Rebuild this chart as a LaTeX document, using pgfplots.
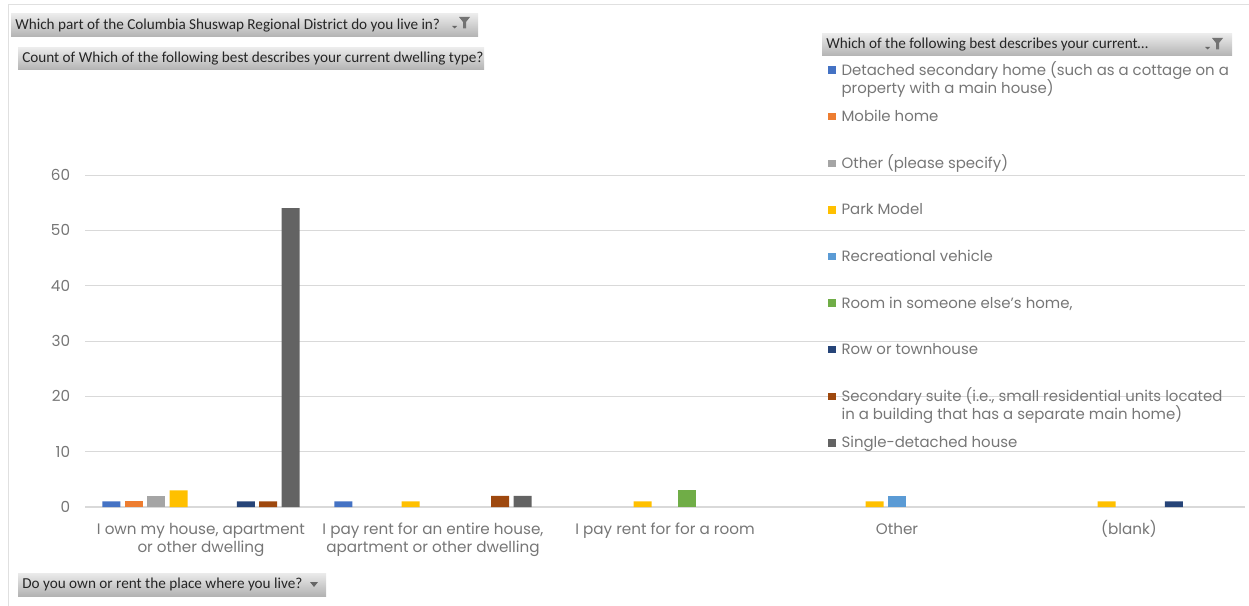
\documentclass[border=0pt]{standalone}
\usepackage{pgfplots}
\pgfplotsset{compat=1.18}
\usepackage{fontspec}
\setmainfont{Poppins}
\newfontfamily\btnfont{Carlito}
\definecolor{cA}{HTML}{4472C4}
\definecolor{cB}{HTML}{ED7D31}
\definecolor{cC}{HTML}{A5A5A5}
\definecolor{cD}{HTML}{FFC000}
\definecolor{cE}{HTML}{5B9BD5}
\definecolor{cF}{HTML}{70AD47}
\definecolor{cG}{HTML}{264478}
\definecolor{cH}{HTML}{9E480E}
\definecolor{cI}{HTML}{636363}
\definecolor{txt}{HTML}{767676}
\definecolor{gridc}{HTML}{D9D9D9}
\definecolor{btntxt}{HTML}{262626}
\newcommand{\lentry}[1]{\parbox[t]{330pt}{#1}}
\newcommand{\filtericon}[2]{%
  \fill[black!60] (#1,#2+9) -- (#1+5,#2+9) -- (#1+2.5,#2+11.5) -- cycle;
  \fill[black!55] (#1+7,#2) -- (#1+18,#2) -- (#1+14,#2+5) -- (#1+14,#2+11.5) -- (#1+11,#2+11.5) -- (#1+11,#2+5) -- cycle;}
\begin{document}
\begin{tikzpicture}
\begin{scope}[x=0.75pt,y=-0.75pt]
  \draw[black!12, line width=0.75pt] (8,606) -- (8,5) -- (1249,5);
  % buttons
  \shade[top color=black!8, bottom color=black!30] (11,14) rectangle (478,37);
  \node[anchor=west, inner sep=0pt, text=btntxt, font=\btnfont\fontsize{11.4}{13}\selectfont] at (15,25.5) {Which part of the Columbia Shuswap Regional District do you live in?};
  \filtericon{452}{17}
  \shade[top color=black!8, bottom color=black!30] (18,48) rectangle (484,70);
  \node[anchor=west, inner sep=0pt, text=btntxt, font=\btnfont\fontsize{11.4}{13}\selectfont] at (22,59) {Count of Which of the following best describes your current dwelling type?};
  \shade[top color=black!8, bottom color=black!30] (18,573) rectangle (326,596);
  \node[anchor=west, inner sep=0pt, text=btntxt, font=\btnfont\fontsize{11.4}{13}\selectfont] at (22,584.5) {Do you own or rent the place where you live?};
  \fill[black!60] (310,582) -- (318,582) -- (314,587) -- cycle;
  \shade[top color=black!8, bottom color=black!30] (822,34) rectangle (1232,56);
  \node[anchor=west, inner sep=0pt, text=btntxt, font=\btnfont\fontsize{11.4}{13}\selectfont] at (826,45) {Which of the following best describes your current\dots};
  \filtericon{1205}{38}
\end{scope}
\begin{axis}[
  at={(63.75pt,-380.25pt)}, anchor=south west,
  scale only axis, width=870pt, height=249pt,
  xmin=-0.5, xmax=4.5, ymin=0, ymax=60,
  ytick={0,10,20,30,40,50,60},
  xtick={0,1,2,3,4},
  xticklabels={{\vphantom{(}I own my house, apartment\\or other dwelling},{\vphantom{(}I pay rent for an entire house,\\apartment or other dwelling},{\vphantom{(}I pay rent for for a room},{\vphantom{(}Other},{(blank)}},
  axis lines*=left,
  y axis line style={draw=none},
  x axis line style={draw=gridc, line width=1.3pt},
  ymajorgrids, grid style={draw=gridc, line width=0.75pt},
  tick style={draw=none},
  ticklabel style={font=\fontsize{11.4}{13.5}\selectfont, text=txt},
  /pgf/number format/assume math mode=true,
  yticklabel style={inner sep=0pt, xshift=-11pt},
  xticklabel style={align=center, inner sep=0pt, anchor=north, yshift=-10pt},
  legend style={at={(0.6405,1.336)}, anchor=north west, draw=none, fill=none,
    font=\fontsize{11.2}{13.5}\selectfont, text=txt, row sep=0pt, inner sep=0pt,
    nodes={inner sep=0pt, anchor=base west, text height=8.5pt, text depth=26.45pt},
    /tikz/every odd column/.append style={column sep=4.5pt}},
  legend cell align=left,
  legend image code/.code={\fill[#1] (0pt,1pt) rectangle (5.5pt,6.5pt);},
]
\addplot[ybar, bar width=13.5pt, bar shift=-67.2pt, fill=cA, draw=none] coordinates {(0,1) (1,1)};
\addlegendentry{\lentry{\mbox{Detached secondary home (such as a cottage on a}\\\mbox{property with a main house)}}}
\addplot[ybar, bar width=13.5pt, bar shift=-50.4pt, fill=cB, draw=none] coordinates {(0,1)};
\addlegendentry{\lentry{Mobile home}}
\addplot[ybar, bar width=13.5pt, bar shift=-33.6pt, fill=cC, draw=none] coordinates {(0,2)};
\addlegendentry{\lentry{Other (please specify)}}
\addplot[ybar, bar width=13.5pt, bar shift=-16.8pt, fill=cD, draw=none] coordinates {(0,3) (1,1) (2,1) (3,1) (4,1)};
\addlegendentry{\lentry{Park Model}}
\addplot[ybar, bar width=13.5pt, bar shift=0pt, fill=cE, draw=none] coordinates {(3,2)};
\addlegendentry{\lentry{Recreational vehicle}}
\addplot[ybar, bar width=13.5pt, bar shift=16.8pt, fill=cF, draw=none] coordinates {(2,3)};
\addlegendentry{\lentry{Room in someone else's home,}}
\addplot[ybar, bar width=13.5pt, bar shift=33.6pt, fill=cG, draw=none] coordinates {(0,1) (4,1)};
\addlegendentry{\lentry{Row or townhouse}}
\addplot[ybar, bar width=13.5pt, bar shift=50.4pt, fill=cH, draw=none] coordinates {(0,1) (1,2)};
\addlegendentry{\lentry{\mbox{Secondary suite (i.e., small residential units located}\\\mbox{in a building that has a separate main home)}}}
\addplot[ybar, bar width=13.5pt, bar shift=67.2pt, fill=cI, draw=none] coordinates {(0,54) (1,2)};
\addlegendentry{\lentry{Single-detached house}}
\end{axis}
\pgfresetboundingbox
\path[use as bounding box] (0pt,0pt) rectangle (936.75pt,-454.5pt);
\end{tikzpicture}
\end{document}
